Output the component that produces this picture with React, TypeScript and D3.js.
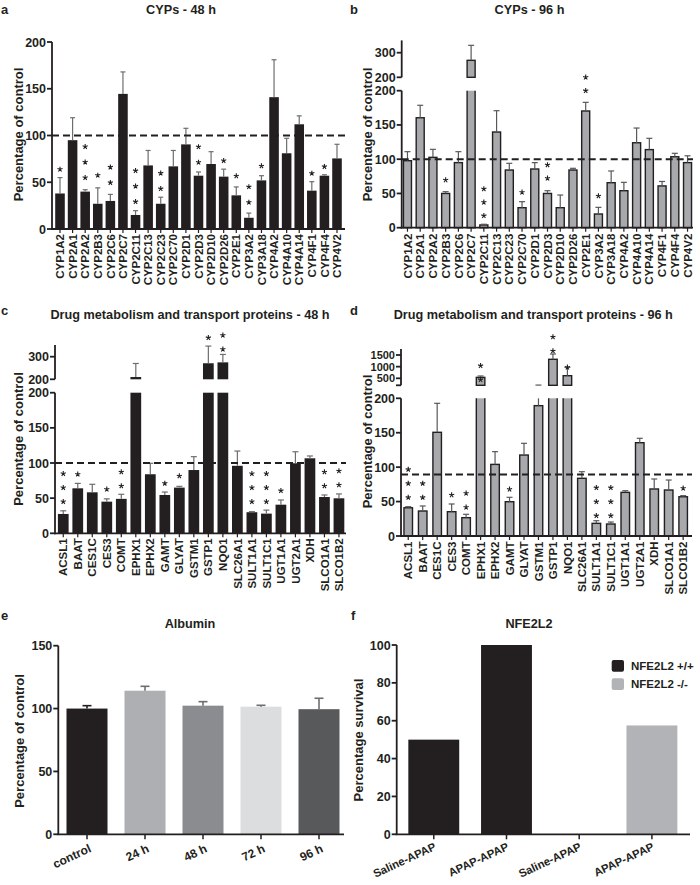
import React from 'react';
import * as d3 from 'd3';

// ---------- DATA ----------
const cypCategories = ['CYP1A2','CYP2A1','CYP2A2','CYP2B3','CYP2C6','CYP2C7','CYP2C11','CYP2C13','CYP2C23','CYP2C70','CYP2D1','CYP2D3','CYP2D10','CYP2D26','CYP2E1','CYP3A2','CYP3A18','CYP4A2','CYP4A10','CYP4A14','CYP4F1','CYP4F4','CYP4V2'];

const cyp48Values = [38, 95, 40, 27, 30, 144.5, 15, 68, 27, 67, 90.5, 57, 69.5, 56, 36, 12, 52, 141, 81, 112, 41, 57, 75.5];
const cyp48Errors = [55, 119, 42, 44, 37, 168, 19.6, 84, 34, 84, 107.7, 61, 82.7, 64, 45, 17, 57, 181, 97, 121, 50.6, 58, 90.6];
const cyp48Stars = [1, 0, 3, 1, 2, 0, 3, 0, 2, 0, 0, 2, 0, 1, 1, 2, 1, 0, 0, 0, 1, 1, 0];
const cyp48StarAt = [63.8, 0, 54.9, 57.4, 49.6, 0, 29.2, 0, 43.1, 0, 0, 71.3, 0, 73.1, 56.7, 28.5, 67.4, 0, 0, 0, 59.5, 66.7, 0];

const cyp96Values = [97.8, 160.5, 102.7, 50, 95, 269, 4, 139.7, 84.2, 29.2, 85.7, 50, 29.2, 84.2, 170.4, 20, 65.7, 54, 124, 114, 61, 103.6, 95];
const cyp96Errors = [111, 178.7, 114.4, 52.6, 111, 330, 5, 170.8, 94, 38, 95, 54, 47.7, 86.7, 183, 29.7, 82.8, 66.2, 145.5, 130.5, 67.5, 108.6, 105];
const cyp96Stars = [0, 0, 0, 1, 0, 0, 3, 0, 0, 1, 0, 2, 0, 0, 2, 1, 0, 0, 0, 0, 0, 0, 0];
const cyp96StarAt = [0, 0, 0, 69.6, 0, 0, 17.5, 0, 0, 51.7, 0, 72.1, 0, 0, 200, 46.3, 0, 0, 0, 0, 0, 0, 0];

const drugCategories = ['ACSL1','BAAT','CES1C','CES3','COMT','EPHX1','EPHX2','GAMT','GLYAT','GSTM1','GSTP1','NQO1','SLC26A1','SULT1A1','SULT1C1','UGT1A1','UGT2A1','XDH','SLCO1A1','SLCO1B2'];

const drug48Values = [27.5, 64, 58.3, 45, 49, 210, 84, 54.5, 65, 90, 271, 275, 96, 30, 28, 40.7, 99.6, 106.7, 51.6, 49.8];
const drug48Errors = [32, 71, 69.7, 49, 55.5, 270, 99.6, 58.7, 66.8, 109, 347, 310, 117, 30.8, 33, 47.4, 116, 110, 54.5, 56];
const drug48Stars = [3, 1, 0, 1, 2, 0, 0, 1, 1, 0, 1, 2, 0, 3, 3, 1, 0, 0, 2, 2];
const drug48StarAt = [45, 84, 0, 62.6, 67.3, 0, 0, 71, 81.5, 0, 384, 332.7, 0, 45, 45, 60.6, 0, 0, 67.3, 68.7];

const drug96Values = [41, 36.3, 150.6, 35.3, 26.6, 540, 104, 49.8, 117.6, 189.3, 1316, 612, 83.8, 18.4, 17.4, 63.4, 135.5, 68.3, 66.8, 57];
const drug96Errors = [42.6, 43.6, 192.7, 46.5, 31.5, 600, 122.5, 56.2, 134.6, 210, 1543, 973, 93.4, 22.2, 20.3, 65.8, 141.9, 82.8, 81.3, 58.6];
const drug96Stars = [3, 2, 0, 1, 2, 2, 0, 1, 0, 0, 2, 1, 0, 3, 3, 0, 0, 0, 0, 1];
const drug96StarAt = [56, 56, 0, 59.5, 41.7, 440, 0, 67.8, 0, 0, 1672, 973, 0, 29.5, 29.5, 0, 0, 0, 0, 69.3];

const percentTicks = [0, 50, 100, 150, 200];
const cyp96UpperTicks = [200, 300];
const drug48UpperTicks = [200, 300];
const drug96UpperTicks = [200, 500, 1000, 1500];

const albuminCategories = ['control', '24 h', '48 h', '72 h', '96 h'];
const albuminValues = [100, 114.2, 102.3, 101.5, 99.5];
const albuminErrors = [102.3, 117.7, 105.5, 102.6, 108.2];
const albuminTicks = [0, 50, 100, 150];

const nfeCategories = ['Saline-APAP', 'APAP-APAP', 'Saline-APAP', 'APAP-APAP'];
const nfeValues = [50, 100, 0, 57.5];
const nfeGroups = ['NFE2L2 +/+', 'NFE2L2 +/+', 'NFE2L2 -/-', 'NFE2L2 -/-'];
const nfeLegend = ['NFE2L2 +/+', 'NFE2L2 -/-'];
const nfeTicks = [0, 20, 40, 60, 80, 100];

// ---------- STYLE ----------
const FONT = "'Liberation Sans', Arial, Helvetica, sans-serif";
const INK = '#231f20';
const GREY_BAR = '#a7a9ac';
const albuminColors = ['#231f20', '#adafb2', '#8a8c8f', '#dcdddf', '#58595b'];
const nfeColors: Record<string, string> = { 'NFE2L2 +/+': '#231f20', 'NFE2L2 -/-': '#b1b3b6' };

// small asterisk glyph drawn as a path (5 arms), centred at (0,0)
const STAR_R = 2.7;
const starPath = d3.range(5).map((k) => {
  const a = -Math.PI / 2 + (k * 2 * Math.PI) / 5;
  return `M0,0L${(STAR_R * Math.cos(a)).toFixed(2)},${(STAR_R * Math.sin(a)).toFixed(2)}`;
}).join('');

type PanelProps = {
  cats: string[]; values: number[]; errors: number[]; stars: number[]; starAt: number[];
  x0: number; x1: number; pInner: number; pOuter: number;
  axisX: number; axisEnd: number;
  yBase: number; y200: number;
  upDomain?: [number, number]; upRange?: [number, number]; upTop?: number; upTicks?: number[]; upHideFirst?: boolean; upFont?: number;
  refValue: number;
  fill: string; stroke?: string; errColor: string; capHalf: number;
  starSpacing: number; labelGap: number;
  yLabelX: number; yLabelY: number;
};

function BarPanel(p: PanelProps) {
  const idx = p.cats.map((_, i) => String(i));
  const x = d3.scaleBand<string>().domain(idx).range([p.x0, p.x1]).paddingInner(p.pInner).paddingOuter(p.pOuter);
  const lo = d3.scaleLinear().domain([0, 200]).range([p.yBase, p.y200]);
  const up = p.upDomain && p.upRange ? d3.scaleLinear().domain(p.upDomain).range(p.upRange) : null;
  const Y = (v: number) => (up && v > 200 ? up(v) : lo(v));
  const bw = x.bandwidth();
  const sw = p.stroke ? 1.4 : 0;

  return (
    <g>
      {/* bars */}
      {p.values.map((v, i) => {
        const bx = x(String(i))!;
        const parts: JSX.Element[] = [];
        if (up && v > 200) {
          parts.push(<rect key="lf" x={bx} y={lo(200)} width={bw} height={lo(0) - lo(200)} fill={p.fill} />);
          if (p.stroke) {
            parts.push(<path key="ls" d={`M${bx},${lo(200)}V${lo(0)}H${bx + bw}V${lo(200)}`} fill="none" stroke={p.stroke} strokeWidth={sw} />);
          }
          parts.push(<rect key="u" x={bx} y={up(v)} width={bw} height={up(200) - up(v)} fill={p.fill} stroke={p.stroke} strokeWidth={sw} />);
        } else {
          parts.push(<rect key="l" x={bx} y={lo(v)} width={bw} height={lo(0) - lo(v)} fill={p.fill} stroke={p.stroke} strokeWidth={sw} />);
        }
        return <g key={i}>{parts}</g>;
      })}
      {/* error bars */}
      {p.values.map((v, i) => {
        const e = p.errors[i];
        const cx = x(String(i))! + bw / 2;
        const segs: [number, number][] = [];
        if (up && v <= 200 && e > 200) {
          segs.push([lo(v), lo(200)]);
          segs.push([up(200), up(e)]);
        } else {
          segs.push([Y(v), Y(e)]);
        }
        const yc = Y(e);
        return (
          <g key={i} stroke={p.errColor} strokeWidth={1.2}>
            {segs.map((s, k) => <line key={k} x1={cx} x2={cx} y1={s[0]} y2={s[1]} />)}
            <line x1={cx - p.capHalf} x2={cx + p.capHalf} y1={yc} y2={yc} />
          </g>
        );
      })}
      {/* reference line */}
      <line x1={p.axisX} x2={p.axisEnd} y1={lo(p.refValue)} y2={lo(p.refValue)} stroke={INK} strokeWidth={2} strokeDasharray="7,4" />
      {/* stars */}
      {p.stars.map((n, i) => {
        const cx = x(String(i))! + bw / 2;
        const base = Y(p.starAt[i]);
        return d3.range(n).map((k) => (
          <path key={`${i}-${k}`} d={starPath} transform={`translate(${cx},${base - k * p.starSpacing})`} stroke={INK} strokeWidth={1.1} fill="none" />
        ));
      })}
      {/* x axis */}
      <line x1={p.axisX - 1} x2={p.axisEnd} y1={p.yBase} y2={p.yBase} stroke={INK} strokeWidth={1.8} />
      {p.cats.map((c, i) => {
        const cx = x(String(i))! + bw / 2;
        return (
          <g key={c}>
            <line x1={cx} x2={cx} y1={p.yBase} y2={p.yBase + 4} stroke={INK} strokeWidth={1.2} />
            <text transform={`translate(${cx},${p.yBase + p.labelGap}) rotate(-90)`} textAnchor="end" dy="0.36em" fontSize={11.5} fontWeight="bold" fill={INK}>{c}</text>
          </g>
        );
      })}
      {/* y axis lower */}
      <line x1={p.axisX} x2={p.axisX} y1={p.yBase + 0.9} y2={lo(200)} stroke={INK} strokeWidth={1.8} />
      {percentTicks.map((t) => (
        <g key={`lt${t}`}>
          <line x1={p.axisX - 5} x2={p.axisX} y1={lo(t)} y2={lo(t)} stroke={INK} strokeWidth={1.8} />
          <text x={p.axisX - 6} y={lo(t)} dy="0.36em" textAnchor="end" fontSize={12.5} fontWeight="bold" fill={INK}>{t}</text>
        </g>
      ))}
      {/* y axis upper */}
      {up && p.upTicks && (
        <g>
          <line x1={p.axisX} x2={p.axisX} y1={up(200)} y2={up(p.upTop!)} stroke={INK} strokeWidth={1.8} />
          {p.upTicks.map((t, k) => (
            <g key={`ut${t}`}>
              <line x1={p.axisX - 5} x2={p.axisX} y1={up(t)} y2={up(t)} stroke={INK} strokeWidth={1.8} />
              {!(p.upHideFirst && k === 0) && (
                <text x={p.axisX - 6} y={up(t)} dy="0.36em" textAnchor="end" fontSize={p.upFont ?? 12.5} fontWeight="bold" fill={INK}>{t}</text>
              )}
            </g>
          ))}
        </g>
      )}
      <text transform={`translate(${p.yLabelX},${p.yLabelY}) rotate(-90)`} textAnchor="middle" fontSize={13} fontWeight="bold" fill={INK}>Percentage of control</text>
    </g>
  );
}

function AlbuminPanel() {
  const x = d3.scaleBand<string>().domain(albuminCategories).range([58, 348]).paddingInner(0.293).paddingOuter(0.1465);
  const y = d3.scaleLinear().domain([0, 150]).range([834.3, 645.7]);
  const bw = x.bandwidth();
  const axisX = 58.3;
  return (
    <g>
      {albuminValues.map((v, i) => (
        <rect key={i} x={x(albuminCategories[i])!} y={y(v)} width={bw} height={y(0) - y(v)} fill={albuminColors[i]} />
      ))}
      {albuminValues.map((v, i) => {
        const cx = x(albuminCategories[i])! + bw / 2;
        return (
          <g key={i} stroke={i === 0 ? INK : '#6d6e71'} strokeWidth={1.6}>
            <line x1={cx} x2={cx} y1={y(v)} y2={y(albuminErrors[i])} />
            <line x1={cx - 4.5} x2={cx + 4.5} y1={y(albuminErrors[i])} y2={y(albuminErrors[i])} />
          </g>
        );
      })}
      <line x1={axisX - 1} x2={344} y1={y(0)} y2={y(0)} stroke={INK} strokeWidth={1.8} />
      <line x1={axisX} x2={axisX} y1={y(0)} y2={y(150)} stroke={INK} strokeWidth={1.8} />
      {albuminTicks.map((t) => (
        <g key={t}>
          <line x1={axisX - 5} x2={axisX} y1={y(t)} y2={y(t)} stroke={INK} strokeWidth={1.8} />
          <text x={axisX - 6} y={y(t)} dy="0.36em" textAnchor="end" fontSize={12.5} fontWeight="bold" fill={INK}>{t}</text>
        </g>
      ))}
      {albuminCategories.map((c) => {
        const cx = x(c)! + bw / 2;
        return (
          <g key={c}>
            <line x1={cx} x2={cx} y1={y(0)} y2={y(0) + 5} stroke={INK} strokeWidth={1.5} />
            <text transform={`translate(${cx + 5},${y(0) + 17}) rotate(-25)`} textAnchor="end" fontSize={12} fontWeight="bold" fill={INK}>{c}</text>
          </g>
        );
      })}
      <text transform="translate(24,741) rotate(-90)" textAnchor="middle" fontSize={13} fontWeight="bold" fill={INK}>Percentage of control</text>
    </g>
  );
}

function NfePanel() {
  const idx = nfeCategories.map((_, i) => String(i));
  const x = d3.scaleBand<string>().domain(idx).range([396.7, 689]).paddingInner(0.3).paddingOuter(0.16);
  const y = d3.scaleLinear().domain([0, 100]).range([834.3, 645]);
  const bw = x.bandwidth();
  const axisX = 396.7;
  return (
    <g>
      {nfeValues.map((v, i) => (
        <rect key={i} x={x(String(i))!} y={y(v)} width={bw} height={y(0) - y(v)} fill={nfeColors[nfeGroups[i]]} />
      ))}
      <line x1={axisX - 1} x2={690} y1={y(0)} y2={y(0)} stroke={INK} strokeWidth={1.8} />
      <line x1={axisX} x2={axisX} y1={y(0)} y2={y(100)} stroke={INK} strokeWidth={1.8} />
      {nfeTicks.map((t) => (
        <g key={t}>
          <line x1={axisX - 5} x2={axisX} y1={y(t)} y2={y(t)} stroke={INK} strokeWidth={1.8} />
          <text x={axisX - 6} y={y(t)} dy="0.36em" textAnchor="end" fontSize={12.5} fontWeight="bold" fill={INK}>{t}</text>
        </g>
      ))}
      {nfeCategories.map((c, i) => {
        const cx = x(String(i))! + bw / 2;
        return (
          <g key={i}>
            <line x1={cx} x2={cx} y1={y(0)} y2={y(0) + 5} stroke={INK} strokeWidth={1.5} />
            <text transform={`translate(${cx + 3},${y(0) + 15}) rotate(-25)`} textAnchor="end" fontSize={11.3} fontWeight="bold" fill={INK}>{c}</text>
          </g>
        );
      })}
      {nfeLegend.map((g, k) => (
        <g key={g}>
          <rect x={611.7} y={660 + k * 18.3} width={12.3} height={11.7} rx={2} fill={nfeColors[g]} />
          <text x={631} y={666 + k * 18.3} dy="0.36em" fontSize={11.5} fontWeight="bold" fill={INK}>{g}</text>
        </g>
      ))}
      <text transform="translate(363,740) rotate(-90)" textAnchor="middle" fontSize={13} fontWeight="bold" fill={INK}>Percentage survival</text>
    </g>
  );
}

export default function App() {
  return (
    <svg width={700} height={885} style={{ position: 'absolute', left: 0, top: 0, background: '#fff' }} fontFamily={FONT}>
      <rect width={700} height={885} fill="#fff" />
      {/* panel letters */}
      <text x={1} y={14} fontSize={13} fontWeight="bold" fill={INK}>a</text>
      <text x={350} y={14} fontSize={13} fontWeight="bold" fill={INK}>b</text>
      <text x={1} y={315} fontSize={13} fontWeight="bold" fill={INK}>c</text>
      <text x={350} y={315} fontSize={13} fontWeight="bold" fill={INK}>d</text>
      <text x={1} y={619.5} fontSize={13} fontWeight="bold" fill={INK}>e</text>
      <text x={351} y={619.5} fontSize={13} fontWeight="bold" fill={INK}>f</text>
      {/* titles */}
      <text x={181} y={13.5} textAnchor="middle" fontSize={12.7} fontWeight="bold" fill={INK}>CYPs - 48 h</text>
      <text x={529.5} y={13.5} textAnchor="middle" fontSize={12.7} fontWeight="bold" fill={INK}>CYPs - 96 h</text>
      <text x={190} y={319.3} textAnchor="middle" fontSize={12.7} fontWeight="bold" fill={INK}>Drug metabolism and transport proteins - 48 h</text>
      <text x={533.3} y={319.3} textAnchor="middle" fontSize={12.7} fontWeight="bold" fill={INK}>Drug metabolism and transport proteins - 96 h</text>
      <text x={190} y={627.7} textAnchor="middle" fontSize={12.7} fontWeight="bold" fill={INK}>Albumin</text>
      <text x={529} y={627.7} textAnchor="middle" fontSize={12.7} fontWeight="bold" fill={INK}>NFE2L2</text>

      <BarPanel cats={cypCategories} values={cyp48Values} errors={cyp48Errors} stars={cyp48Stars} starAt={cyp48StarAt}
        x0={53.7} x1={343.3} pInner={0.24} pOuter={0.12} axisX={52} axisEnd={345}
        yBase={229} y200={42} refValue={100} fill={INK} errColor="#6d6e71" capHalf={2.5}
        starSpacing={15.5} labelGap={5} yLabelX={22.5} yLabelY={134.5} />

      <BarPanel cats={cypCategories} values={cyp96Values} errors={cyp96Errors} stars={cyp96Stars} starAt={cyp96StarAt}
        x0={401.1} x1={693.9} pInner={0.37} pOuter={0.185} axisX={401.7} axisEnd={693}
        yBase={227.7} y200={90.7} upDomain={[200, 300]} upRange={[77.3, 52.7]} upTop={350} upTicks={cyp96UpperTicks}
        refValue={100} fill={GREY_BAR} stroke={INK} errColor="#58595b" capHalf={3}
        starSpacing={13.4} labelGap={6} yLabelX={371.5} yLabelY={134.5} />

      <BarPanel cats={drugCategories} values={drug48Values} errors={drug48Errors} stars={drug48Stars} starAt={drug48StarAt}
        x0={56} x1={346.2} pInner={0.26} pOuter={0.13} axisX={55} axisEnd={346}
        yBase={533.3} y200={392.7} upDomain={[200, 300]} upRange={[379.3, 356.7]} upTop={352} upTicks={drug48UpperTicks}
        refValue={100} fill={INK} errColor="#6d6e71" capHalf={3}
        starSpacing={14} labelGap={5} yLabelX={22.5} yLabelY={439} />

      <BarPanel cats={drugCategories} values={drug96Values} errors={drug96Errors} stars={drug96Stars} starAt={drug96StarAt}
        x0={401} x1={690.4} pInner={0.41} pOuter={0.205} axisX={401} axisEnd={692}
        yBase={536} y200={398.3} upDomain={[200, 1500]} upRange={[385.3, 355]} upTop={1760} upTicks={drug96UpperTicks} upHideFirst upFont={11}
        refValue={89.5} fill={GREY_BAR} stroke={INK} errColor="#58595b" capHalf={3}
        starSpacing={14} labelGap={5.5} yLabelX={371.5} yLabelY={441.5} />

      <AlbuminPanel />
      <NfePanel />
    </svg>
  );
}
